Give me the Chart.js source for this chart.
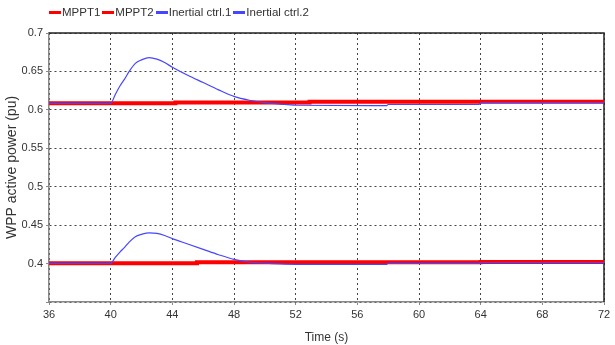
<!DOCTYPE html>
<html>
<head>
<meta charset="utf-8">
<script src="https://cdn.jsdelivr.net/npm/chart.js@4.4.1/dist/chart.umd.min.js"></script>
<style>
body { margin: 0; background: #fff; }
#wrap { position: relative; width: 615px; height: 345px; }
#legend { position: absolute; left: 49px; top: 6px; display: flex; align-items: center; white-space: nowrap;
  font: 11.5px "Liberation Sans", Arial, sans-serif; color: #333; }
#legend .it { display: flex; align-items: center; margin-right: 2px; }
#legend .sw { display: inline-block; width: 12px; height: 3px; margin-right: 1px; }
</style>
</head>
<body>
<div id="wrap">
  <canvas id="c" width="615" height="345"></canvas>
  <div id="legend"></div>
</div>
<script>
// series names / colours
const names = ['MPPT1', 'MPPT2', 'Inertial ctrl.1', 'Inertial ctrl.2'];
const colors = ['#ff0000', '#ff0000', '#4646ff', '#4646ff'];

// MPPT curves (step changes)
const mppt1T = [36, 44.2, 52.9, 72];
const mppt1P = [0.6085, 0.6095, 0.6105, 0.6105];
const mppt2T = [36, 45.6, 64, 72];
const mppt2P = [0.4003, 0.4016, 0.4022, 0.4022];

// inertial control curves
const inert1T = [36, 40, 40.3, 40.6, 40.9, 41.2, 41.6, 42, 42.5, 43, 43.5, 44, 45, 46, 47, 48, 49, 50, 51, 52, 57.9, 58, 63.9, 64, 72];
const inert1P = [0.6085, 0.6085, 0.620, 0.631, 0.640, 0.650, 0.6605, 0.665, 0.668, 0.666, 0.6615, 0.6555, 0.645, 0.6355, 0.626, 0.6175, 0.6125, 0.6095, 0.6075, 0.606, 0.6055, 0.607, 0.607, 0.6095, 0.6095];
const inert2T = [36, 40, 40.3, 40.6, 40.9, 41.2, 41.6, 42, 42.5, 43, 43.5, 44, 45, 46, 47, 48, 49, 50, 51, 52, 57.9, 58, 63.9, 64, 72];
const inert2P = [0.4003, 0.4003, 0.408, 0.415, 0.421, 0.428, 0.435, 0.438, 0.440, 0.4392, 0.4365, 0.4325, 0.4255, 0.4185, 0.4115, 0.4055, 0.402, 0.4005, 0.3995, 0.399, 0.399, 0.4002, 0.4002, 0.4013, 0.4013];

// axes
const xMin = 36, xMax = 72, xStep = 4;
const yMin = 0.35, yMax = 0.7, yStep = 0.05;

const pts = (t, p) => t.map((x, i) => ({ x: x, y: p[i] }));

const sans = '"Liberation Sans", Arial, sans-serif';

// legend
const leg = document.getElementById('legend');
names.forEach((n, i) => {
  const it = document.createElement('span');
  it.className = 'it';
  it.innerHTML = '<span class="sw" style="background:' + colors[i] + '"></span>' + n;
  leg.appendChild(it);
});

const frame = {
  id: 'frame',
  beforeDatasetsDraw(chart) {
    const { ctx, chartArea: a } = chart;
    ctx.save();
    ctx.strokeStyle = '#222';
    ctx.lineWidth = 1.5;
    ctx.beginPath();
    ctx.moveTo(a.left, a.top);
    ctx.lineTo(a.right, a.top);
    ctx.lineTo(a.right, a.bottom);
    ctx.stroke();
    ctx.restore();
  }
};

const ctx = document.getElementById('c').getContext('2d');
new Chart(ctx, {
  type: 'line',
  data: {
    datasets: [
      { label: names[0], data: pts(mppt1T, mppt1P), borderColor: colors[0], borderWidth: 4, stepped: 'before', order: 2 },
      { label: names[1], data: pts(mppt2T, mppt2P), borderColor: colors[1], borderWidth: 4, stepped: 'before', order: 2 },
      { label: names[2], data: pts(inert1T, inert1P), borderColor: colors[2], borderWidth: 1.2, cubicInterpolationMode: 'monotone', order: 1 },
      { label: names[3], data: pts(inert2T, inert2P), borderColor: colors[3], borderWidth: 1.2, cubicInterpolationMode: 'monotone', order: 1 }
    ]
  },
  options: {
    responsive: false,
    animation: false,
    devicePixelRatio: 1,
    layout: { padding: { top: 33, right: 11, left: 0, bottom: 0 } },
    elements: { point: { radius: 0 } },
    plugins: { legend: { display: false }, tooltip: { enabled: false } },
    scales: {
      x: {
        type: 'linear', min: xMin, max: xMax,
        ticks: { stepSize: xStep, color: '#333', padding: 3, font: { family: sans, size: 11 } },
        grid: { color: '#444', tickLength: 3, tickColor: '#888' },
        border: { color: '#888', width: 1.5, dash: [2, 3] },
        title: { display: true, text: 'Time (s)', color: '#333', padding: 0, font: { family: sans, size: 12 } },
        afterFit: s => { s.height = 43; }
      },
      y: {
        min: yMin, max: yMax,
        ticks: {
          stepSize: yStep, color: '#333', padding: 3, font: { family: sans, size: 11 },
          callback: v => v < 0.36 ? '' : String(+v.toFixed(2))
        },
        grid: { color: '#444', tickLength: 3, tickColor: '#888' },
        border: { color: '#888', width: 1.5, dash: [2, 3] },
        title: { display: true, text: 'WPP active power (pu)', color: '#333', padding: { top: 4, bottom: 0 },
          font: { family: sans, size: 14 } },
        afterFit: s => { s.width = 49; }
      }
    }
  },
  plugins: [frame]
});
</script>
</body>
</html>
